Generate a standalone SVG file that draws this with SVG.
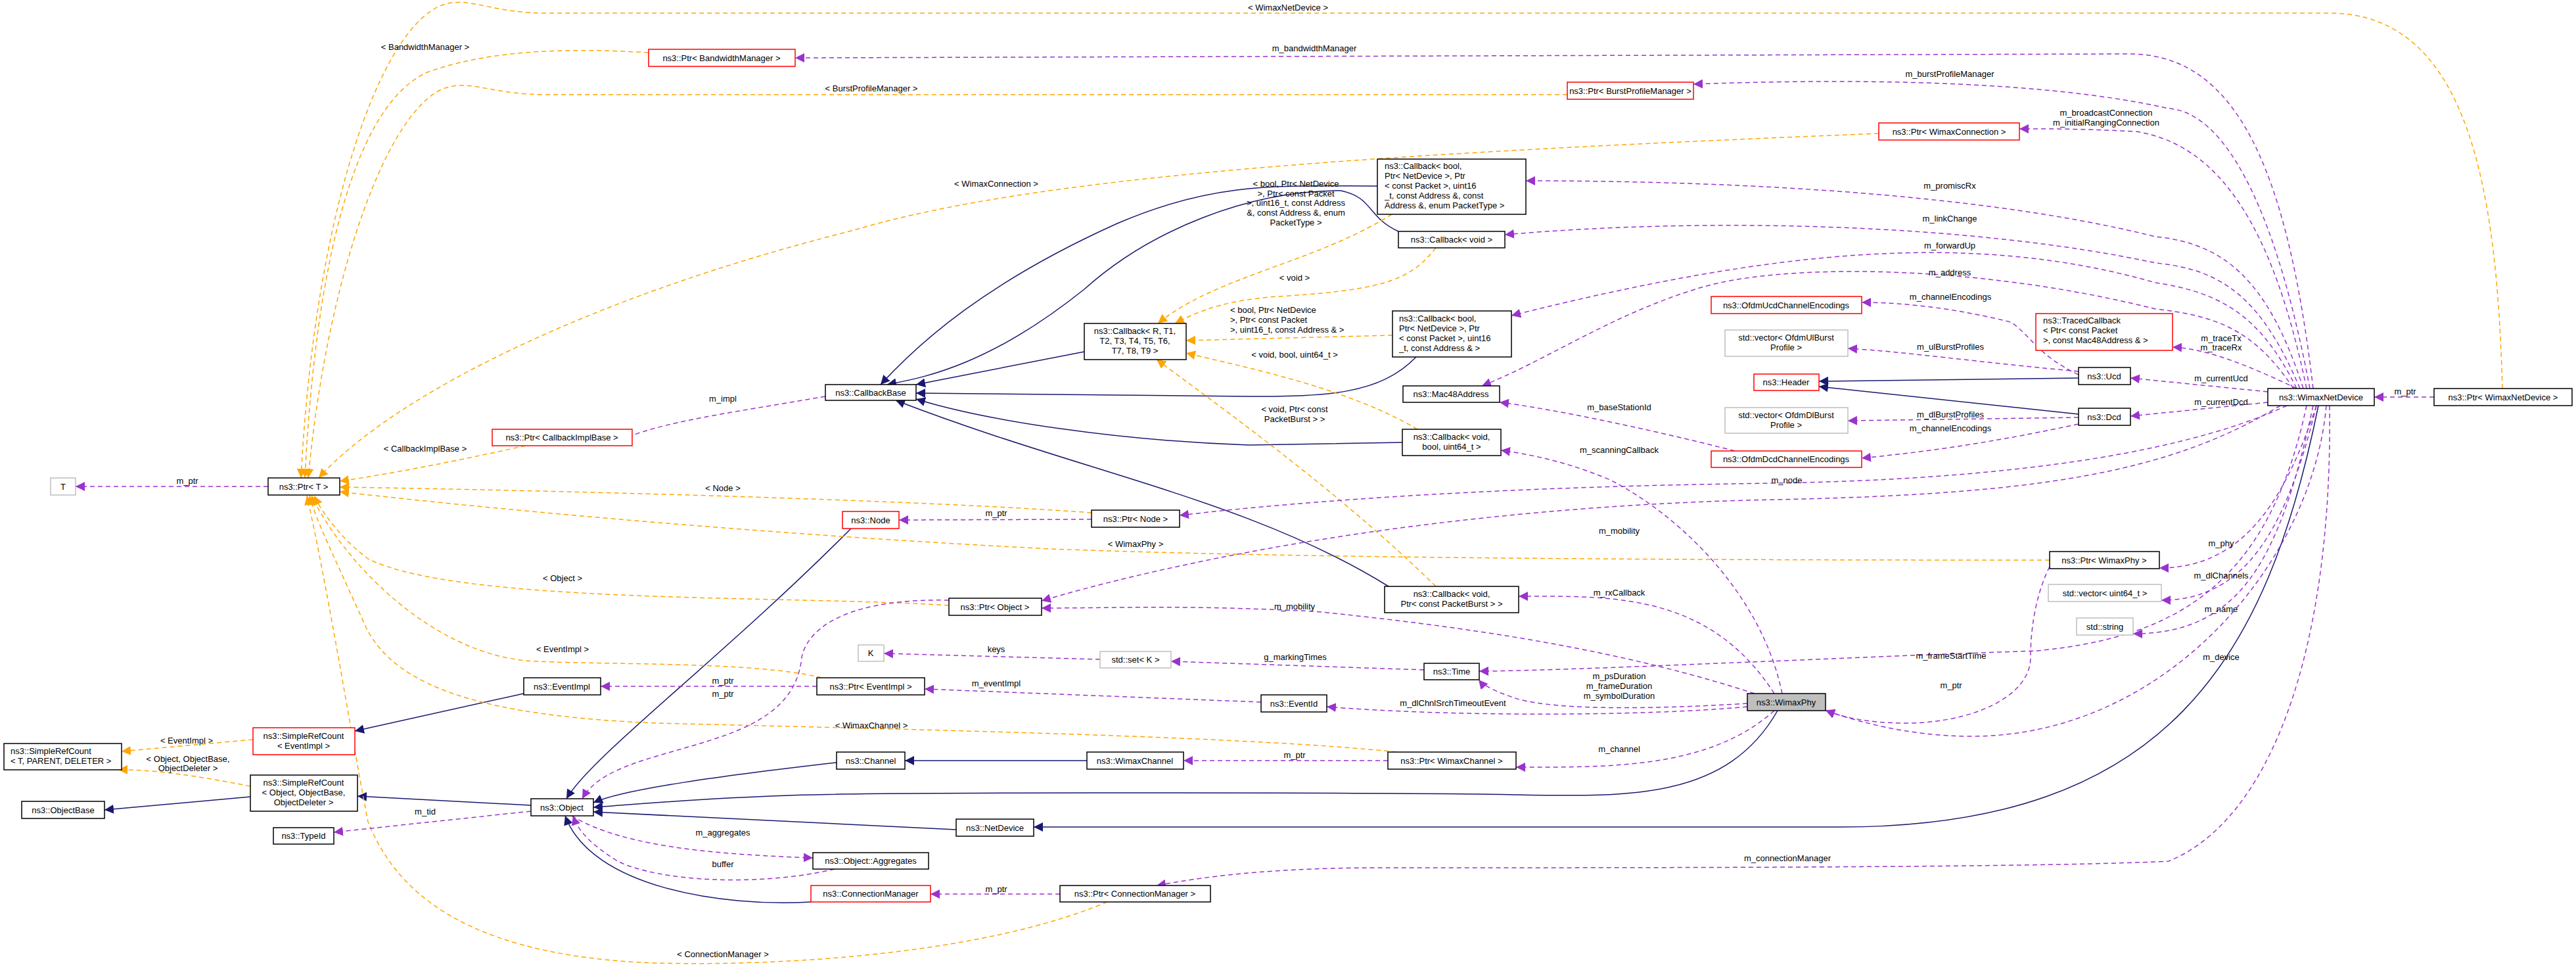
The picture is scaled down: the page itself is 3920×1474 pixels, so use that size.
<svg xmlns="http://www.w3.org/2000/svg" width="3920" height="1474" viewBox="0 0 3920 1474">
<style>
text{font-family:"Liberation Sans",Arial,sans-serif;font-size:13px;fill:#000}
.n rect{fill:#fff;stroke:#000;stroke-width:1.5}
.n.r rect{stroke:#f00}
.n.g rect{stroke:#bfbfbf}
.n.s rect{fill:#bfbfbf}
.n text{text-anchor:middle}
.n text.l{text-anchor:start}
.e path{fill:none;stroke-width:1.5}
.i{stroke:#191970}
.u{stroke:#9a32cd;stroke-dasharray:7,5}
.t{stroke:#ffa500;stroke-dasharray:7,5}
.lb text{text-anchor:middle}
</style>
<defs>
<marker id="ai" viewBox="0 0 10 10" refX="10" refY="5" markerWidth="14" markerHeight="14" markerUnits="userSpaceOnUse" orient="auto"><path d="M0,0L10,5L0,10z" fill="#191970"/></marker>
<marker id="au" viewBox="0 0 10 10" refX="10" refY="5" markerWidth="14" markerHeight="14" markerUnits="userSpaceOnUse" orient="auto"><path d="M0,0L10,5L0,10z" fill="#9a32cd"/></marker>
<marker id="at" viewBox="0 0 10 10" refX="10" refY="5" markerWidth="14" markerHeight="14" markerUnits="userSpaceOnUse" orient="auto"><path d="M0,0L10,5L0,10z" fill="#ffa500"/></marker>
</defs>
<rect width="3920" height="1474" fill="#fff"/>
<g id="edges" class="e">
<!-- inheritance -->
<path class="i" marker-end="url(#ai)" d="M2096,283 C1950,283 1850,275 1700,340 C1500,430 1400,520 1340,585"/>
<path class="i" marker-end="url(#ai)" d="M2128,352 C2080,330 2090,300 2040,290 C1900,290 1750,350 1650,440 C1500,560 1400,575 1350,585"/>
<path class="i" marker-end="url(#ai)" d="M1650,535 L1394,585"/>
<path class="i" marker-end="url(#ai)" d="M2155,543 C2100,600 2020,603 1900,603 L1394,598"/>
<path class="i" marker-end="url(#ai)" d="M2134,673 L1900,677 C1700,670 1500,640 1394,607"/>
<path class="i" marker-end="url(#ai)" d="M2113,892 C1900,760 1650,720 1363,609"/>
<path class="i" marker-end="url(#ai)" d="M1295,804 C1100,1000 900,1150 862,1215"/>
<path class="i" marker-end="url(#ai)" d="M797,1055 L540,1112"/>
<path class="i" marker-end="url(#ai)" d="M381,1212 L159,1232"/>
<path class="i" marker-end="url(#ai)" d="M808,1225 L544,1211"/>
<path class="i" marker-end="url(#ai)" d="M1273,1160 C1100,1180 950,1200 903,1221"/>
<path class="i" marker-end="url(#ai)" d="M1654,1157 L1377,1157"/>
<path class="i" marker-end="url(#ai)" d="M2705,1081 C2620,1230 2450,1210 2250,1208 C2000,1205 1300,1205 1200,1210 C1050,1215 950,1225 903,1228"/>
<path class="i" marker-end="url(#ai)" d="M1455,1262 L903,1235"/>
<path class="i" marker-end="url(#ai)" d="M3528,617 C3450,1000 3300,1258 2800,1258 L1573,1258"/>
<path class="i" marker-end="url(#ai)" d="M1234,1372 C1100,1380 900,1350 860,1241"/>
<path class="i" marker-end="url(#ai)" d="M3163,575 L2768,580"/>
<path class="i" marker-end="url(#ai)" d="M3163,630 L2768,588"/>
<!-- templates -->
<path class="t" marker-end="url(#at)" d="M3808,591 C3800,300 3760,20 3545,20 L830,20 C760,20 720,0 690,4 C590,10 480,300 458,727"/>
<path class="t" marker-end="url(#at)" d="M987,80 C900,75 760,70 650,110 C540,160 480,400 464,727"/>
<path class="t" marker-end="url(#at)" d="M2385,144 L830,144 C760,144 720,125 690,131 C600,140 500,400 469,727"/>
<path class="t" marker-end="url(#at)" d="M2859,203 C2200,230 1600,260 1300,350 C900,450 600,600 485,727"/>
<path class="t" marker-end="url(#at)" d="M800,678 C700,700 600,720 517,732"/>
<path class="t" marker-end="url(#at)" d="M1661,780 C1400,760 800,745 517,741"/>
<path class="t" marker-end="url(#at)" d="M3119,852 C2600,852 2000,850 1600,835 C1200,815 800,780 517,748"/>
<path class="t" marker-end="url(#at)" d="M1444,921 C1200,905 700,920 560,850 C520,820 490,780 478,754"/>
<path class="t" marker-end="url(#at)" d="M1250,1031 C1150,1005 900,1012 800,1005 C650,990 520,850 474,754"/>
<path class="t" marker-end="url(#at)" d="M2125,1144 C1900,1120 1400,1110 1000,1100 C750,1090 600,1050 555,950 C510,850 480,790 471,754"/>
<path class="t" marker-end="url(#at)" d="M1685,1372 C1500,1450 1200,1470 1000,1465 C700,1455 600,1350 560,1250 C540,1150 500,900 467,754"/>
<path class="t" marker-end="url(#at)" d="M2118,326 C2000,400 1850,420 1762,492"/>
<path class="t" marker-end="url(#at)" d="M2185,377 C2150,420 2120,440 1960,450 C1870,455 1830,470 1788,492"/>
<path class="t" marker-end="url(#at)" d="M2119,510 L1805,518"/>
<path class="t" marker-end="url(#at)" d="M2157,653 C2050,590 1900,560 1805,537"/>
<path class="t" marker-end="url(#at)" d="M2185,892 C2050,760 1900,650 1760,547"/>
<path class="t" marker-end="url(#at)" d="M385,1125 L185,1143"/>
<path class="t" marker-end="url(#at)" d="M381,1196 C300,1180 230,1170 180,1171"/>
<!-- usage -->
<path class="u" marker-end="url(#au)" d="M408,740 L115,740"/>
<path class="u" marker-end="url(#au)" d="M1256,603 C1100,630 980,645 930,678"/>
<path class="u" marker-end="url(#au)" d="M1661,790 L1368,791"/>
<path class="u" marker-end="url(#au)" d="M1444,913 C1300,910 1230,950 1220,1000 C1210,1100 1100,1120 1000,1150 C930,1170 900,1190 886,1215"/>
<path class="u" marker-end="url(#au)" d="M1243,1044 L914,1044"/>
<path class="u" marker-end="url(#au)" d="M1674,1003 L1345,994"/>
<path class="u" marker-end="url(#au)" d="M2167,1019 L1782,1006"/>
<path class="u" marker-end="url(#au)" d="M1919,1068 L1407,1048"/>
<path class="u" marker-end="url(#au)" d="M2112,1157 L1801,1157"/>
<path class="u" marker-end="url(#au)" d="M1613,1360 L1416,1360"/>
<path class="u" marker-end="url(#au)" d="M808,1234 L508,1266"/>
<path class="u" marker-end="url(#au)" d="M870,1241 C950,1290 1100,1300 1237,1305"/>
<path class="u" marker-end="url(#au)" d="M1270,1322 C1150,1350 1000,1340 940,1310 C900,1285 880,1265 872,1241"/>
<path class="u" marker-end="url(#au)" d="M3704,604 L3613,604"/>
<path class="u" marker-end="url(#au)" d="M3119,862 C3100,900 3090,950 3090,1000 C3090,1060 3000,1100 2900,1100 C2840,1100 2800,1090 2778,1080"/>
<path class="u" marker-end="url(#au)" d="M3163,570 C3100,540 3090,510 3060,490 C2980,470 2900,460 2833,460"/>
<path class="u" marker-end="url(#au)" d="M3163,565 C3000,550 2900,535 2812,530"/>
<path class="u" marker-end="url(#au)" d="M3163,635 L2812,640"/>
<path class="u" marker-end="url(#au)" d="M3163,645 C3000,680 2900,690 2833,697"/>
<path class="u" marker-end="url(#au)" d="M2640,686 C2500,650 2350,620 2282,612"/>
<path class="u" marker-end="url(#au)" d="M3520,591 C3480,250 3400,82 3240,82 L1210,88"/>
<path class="u" marker-end="url(#au)" d="M3515,591 C3460,300 3380,170 3300,165 C3100,120 2800,120 2577,128"/>
<path class="u" marker-end="url(#au)" d="M3510,591 C3460,350 3380,220 3250,200 C3150,195 3100,196 3073,196"/>
<path class="u" marker-end="url(#au)" d="M3505,591 C3450,420 3380,370 3280,360 C3000,290 2600,275 2322,275"/>
<path class="u" marker-end="url(#au)" d="M3500,591 C3440,450 3380,410 3280,400 C3000,340 2600,330 2290,357"/>
<path class="u" marker-end="url(#au)" d="M3495,591 C3440,480 3380,445 3280,430 C3000,350 2700,380 2300,480"/>
<path class="u" marker-end="url(#au)" d="M3490,591 C3430,500 3370,480 3280,470 C3000,400 2700,400 2580,440 C2450,480 2350,550 2255,587"/>
<path class="u" marker-end="url(#au)" d="M3495,591 C3430,560 3360,530 3306,528"/>
<path class="u" marker-end="url(#au)" d="M3451,596 L3242,575"/>
<path class="u" marker-end="url(#au)" d="M3451,612 L3242,633"/>
<path class="u" marker-end="url(#au)" d="M3480,617 C3300,700 3000,730 2700,735 C2300,740 2000,760 1795,784"/>
<path class="u" marker-end="url(#au)" d="M3470,617 C3300,720 3100,752 2700,760 C2200,770 1800,850 1585,914"/>
<path class="u" marker-end="url(#au)" d="M2670,1055 C2500,1000 2300,960 2000,930 C1800,920 1700,925 1585,925"/>
<path class="u" marker-end="url(#au)" d="M3525,617 C3480,750 3420,864 3286,864"/>
<path class="u" marker-end="url(#au)" d="M3525,617 C3480,800 3420,913 3289,913"/>
<path class="u" marker-end="url(#au)" d="M3520,617 C3470,850 3410,964 3246,964"/>
<path class="u" marker-end="url(#au)" d="M3510,617 C3450,900 3300,970 3100,990 C2800,1000 2400,1020 2251,1021"/>
<path class="u" marker-end="url(#au)" d="M3540,617 C3520,850 3300,1120 3000,1120 C2900,1120 2820,1095 2778,1081"/>
<path class="u" marker-end="url(#au)" d="M3545,617 C3550,1000 3450,1250 3300,1310 C3100,1320 2500,1320 2100,1320 C1900,1320 1800,1340 1760,1347"/>
<path class="u" marker-end="url(#au)" d="M2712,1055 C2680,900 2550,780 2450,730 C2380,700 2320,690 2284,685"/>
<path class="u" marker-end="url(#au)" d="M2700,1055 C2600,900 2450,907 2311,907"/>
<path class="u" marker-end="url(#au)" d="M2659,1070 C2500,1080 2350,1080 2300,1060 C2270,1050 2255,1040 2250,1034"/>
<path class="u" marker-end="url(#au)" d="M2659,1075 C2500,1090 2200,1090 2019,1075"/>
<path class="u" marker-end="url(#au)" d="M2700,1081 C2600,1170 2450,1167 2307,1167"/>
</g>
<g id="labels" class="lb">
<text x="1960" y="16">&lt; WimaxNetDevice &gt;</text>
<text x="647" y="76">&lt; BandwidthManager &gt;</text>
<text x="1326" y="139">&lt; BurstProfileManager &gt;</text>
<text x="1516" y="284">&lt; WimaxConnection &gt;</text>
<text x="2000" y="78">m_bandwidthManager</text>
<text x="2967" y="117">m_burstProfileManager</text>
<text x="3205" y="176">m_broadcastConnection</text>
<text x="3205" y="191">m_initialRangingConnection</text>
<text x="1972" y="284">&lt; bool, Ptr&lt; NetDevice</text>
<text x="1972" y="299">&gt;, Ptr&lt; const Packet</text>
<text x="1972" y="313">&gt;, uint16_t, const Address</text>
<text x="1972" y="328">&amp;, const Address &amp;, enum</text>
<text x="1972" y="343">PacketType &gt;</text>
<text x="1970" y="427">&lt; void &gt;</text>
<text x="1872" y="476" style="text-anchor:start">&lt; bool, Ptr&lt; NetDevice</text>
<text x="1872" y="491" style="text-anchor:start">&gt;, Ptr&lt; const Packet</text>
<text x="1872" y="506" style="text-anchor:start">&gt;, uint16_t, const Address &amp; &gt;</text>
<text x="1970" y="544">&lt; void, bool, uint64_t &gt;</text>
<text x="1970" y="627">&lt; void, Ptr&lt; const</text>
<text x="1970" y="642">PacketBurst &gt; &gt;</text>
<text x="1100" y="611">m_impl</text>
<text x="647" y="687">&lt; CallbackImplBase &gt;</text>
<text x="285" y="736">m_ptr</text>
<text x="1100" y="747">&lt; Node &gt;</text>
<text x="1516" y="785">m_ptr</text>
<text x="1728" y="832">&lt; WimaxPhy &gt;</text>
<text x="856" y="884">&lt; Object &gt;</text>
<text x="856" y="992">&lt; EventImpl &gt;</text>
<text x="2967" y="287">m_promiscRx</text>
<text x="2967" y="337">m_linkChange</text>
<text x="2967" y="378">m_forwardUp</text>
<text x="2967" y="419">m_address</text>
<text x="2968" y="456">m_channelEncodings</text>
<text x="2968" y="532">m_ulBurstProfiles</text>
<text x="2968" y="635">m_dlBurstProfiles</text>
<text x="2968" y="656">m_channelEncodings</text>
<text x="2464" y="624">m_baseStationId</text>
<text x="2464" y="689">m_scanningCallback</text>
<text x="2719" y="735">m_node</text>
<text x="3380" y="519">m_traceTx</text>
<text x="3380" y="533">m_traceRx</text>
<text x="3380" y="580">m_currentUcd</text>
<text x="3380" y="616">m_currentDcd</text>
<text x="3660" y="600">m_ptr</text>
<text x="3380" y="831">m_phy</text>
<text x="3380" y="880">m_dlChannels</text>
<text x="3380" y="931">m_name</text>
<text x="3380" y="1004">m_device</text>
<text x="2464" y="812">m_mobility</text>
<text x="1970" y="927">m_mobility</text>
<text x="2464" y="906">m_rxCallback</text>
<text x="1516" y="992">keys</text>
<text x="1971" y="1004">g_markingTimes</text>
<text x="2969" y="1002">m_frameStartTime</text>
<text x="2464" y="1033">m_psDuration</text>
<text x="2464" y="1048">m_frameDuration</text>
<text x="2464" y="1063">m_symbolDuration</text>
<text x="2969" y="1047">m_ptr</text>
<text x="1100" y="1040">m_ptr</text>
<text x="1100" y="1060">m_ptr</text>
<text x="1516" y="1044">m_eventImpl</text>
<text x="2211" y="1074">m_dlChnlSrchTimeoutEvent</text>
<text x="1326" y="1108">&lt; WimaxChannel &gt;</text>
<text x="1970" y="1153">m_ptr</text>
<text x="2464" y="1144">m_channel</text>
<text x="284" y="1131">&lt; EventImpl &gt;</text>
<text x="286" y="1159">&lt; Object, ObjectBase,</text>
<text x="286" y="1173">ObjectDeleter &gt;</text>
<text x="647" y="1239">m_tid</text>
<text x="1100" y="1271">m_aggregates</text>
<text x="1100" y="1319">buffer</text>
<text x="1516" y="1357">m_ptr</text>
<text x="2720" y="1310">m_connectionManager</text>
<text x="1100" y="1456">&lt; ConnectionManager &gt;</text>
</g>
<g id="n_T" class="n g"><rect x="77" y="727" width="38" height="26"/><text x="96" y="745">T</text></g>
<g id="n_PtrT" class="n"><rect x="408" y="727" width="109" height="26"/><text x="462" y="745">ns3::Ptr&lt; T &gt;</text></g>
<g id="n_PtrBW" class="n r"><rect x="987" y="75" width="223" height="26"/><text x="1098" y="93">ns3::Ptr&lt; BandwidthManager &gt;</text></g>
<g id="n_PtrBP" class="n r"><rect x="2385" y="125" width="192" height="26"/><text x="2481" y="143">ns3::Ptr&lt; BurstProfileManager &gt;</text></g>
<g id="n_PtrWC" class="n r"><rect x="2859" y="187" width="214" height="26"/><text x="2966" y="205">ns3::Ptr&lt; WimaxConnection &gt;</text></g>
<g id="n_PtrCIB" class="n r"><rect x="749" y="653" width="213" height="25"/><text x="855" y="670">ns3::Ptr&lt; CallbackImplBase &gt;</text></g>
<g id="n_CB" class="n"><rect x="1256" y="585" width="138" height="24"/><text x="1325" y="602">ns3::CallbackBase</text></g>
<g id="n_CbR" class="n"><rect x="1650" y="492" width="155" height="55"/><text x="1727" y="508">ns3::Callback&lt; R, T1,</text><text x="1727" y="523">T2, T3, T4, T5, T6,</text><text x="1727" y="538">T7, T8, T9 &gt;</text></g>
<g id="n_CbPT" class="n"><rect x="2096" y="242" width="226" height="84"/><text class="l" x="2107" y="257">ns3::Callback&lt; bool,</text><text class="l" x="2107" y="272">Ptr&lt; NetDevice &gt;, Ptr</text><text class="l" x="2107" y="287">&lt; const Packet &gt;, uint16</text><text class="l" x="2107" y="302">_t, const Address &amp;, const</text><text class="l" x="2107" y="317">Address &amp;, enum PacketType &gt;</text></g>
<g id="n_CbV" class="n"><rect x="2128" y="352" width="162" height="25"/><text x="2209" y="369">ns3::Callback&lt; void &gt;</text></g>
<g id="n_CbA" class="n"><rect x="2119" y="473" width="181" height="70"/><text class="l" x="2129" y="489">ns3::Callback&lt; bool,</text><text class="l" x="2129" y="504">Ptr&lt; NetDevice &gt;, Ptr</text><text class="l" x="2129" y="519">&lt; const Packet &gt;, uint16</text><text class="l" x="2129" y="534">_t, const Address &amp; &gt;</text></g>
<g id="n_Mac" class="n"><rect x="2135" y="587" width="147" height="25"/><text x="2208" y="604">ns3::Mac48Address</text></g>
<g id="n_CbVB" class="n"><rect x="2134" y="653" width="150" height="40"/><text x="2209" y="669">ns3::Callback&lt; void,</text><text x="2209" y="684">bool, uint64_t &gt;</text></g>
<g id="n_Ucde" class="n r"><rect x="2604" y="451" width="229" height="26"/><text x="2718" y="469">ns3::OfdmUcdChannelEncodings</text></g>
<g id="n_VUl" class="n g"><rect x="2625" y="502" width="187" height="40"/><text x="2718" y="518">std::vector&lt; OfdmUlBurst</text><text x="2718" y="533">Profile &gt;</text></g>
<g id="n_Hdr" class="n r"><rect x="2669" y="569" width="99" height="25"/><text x="2718" y="586">ns3::Header</text></g>
<g id="n_VDl" class="n g"><rect x="2625" y="620" width="187" height="39"/><text x="2718" y="636">std::vector&lt; OfdmDlBurst</text><text x="2718" y="651">Profile &gt;</text></g>
<g id="n_Dcde" class="n r"><rect x="2604" y="686" width="229" height="25"/><text x="2718" y="703">ns3::OfdmDcdChannelEncodings</text></g>
<g id="n_TC" class="n r"><rect x="3098" y="477" width="208" height="56"/><text class="l" x="3109" y="492">ns3::TracedCallback</text><text class="l" x="3109" y="507">&lt; Ptr&lt; const Packet</text><text class="l" x="3109" y="522">&gt;, const Mac48Address &amp; &gt;</text></g>
<g id="n_Ucd" class="n"><rect x="3163" y="559" width="79" height="26"/><text x="3202" y="577">ns3::Ucd</text></g>
<g id="n_Dcd" class="n"><rect x="3163" y="621" width="79" height="26"/><text x="3202" y="639">ns3::Dcd</text></g>
<g id="n_WND" class="n"><rect x="3451" y="591" width="162" height="26"/><text x="3532" y="609">ns3::WimaxNetDevice</text></g>
<g id="n_PtrWND" class="n"><rect x="3704" y="591" width="210" height="26"/><text x="3809" y="609">ns3::Ptr&lt; WimaxNetDevice &gt;</text></g>
<g id="n_PtrWP" class="n"><rect x="3119" y="839" width="167" height="26"/><text x="3202" y="857">ns3::Ptr&lt; WimaxPhy &gt;</text></g>
<g id="n_VU64" class="n g"><rect x="3117" y="889" width="172" height="26"/><text x="3203" y="907">std::vector&lt; uint64_t &gt;</text></g>
<g id="n_Str" class="n g"><rect x="3160" y="940" width="86" height="26"/><text x="3203" y="958">std::string</text></g>
<g id="n_Node" class="n r"><rect x="1282" y="778" width="86" height="26"/><text x="1325" y="796">ns3::Node</text></g>
<g id="n_PtrNode" class="n"><rect x="1661" y="776" width="134" height="26"/><text x="1728" y="794">ns3::Ptr&lt; Node &gt;</text></g>
<g id="n_PtrObj" class="n"><rect x="1444" y="910" width="141" height="26"/><text x="1514" y="928">ns3::Ptr&lt; Object &gt;</text></g>
<g id="n_CbPB" class="n"><rect x="2107" y="892" width="204" height="40"/><text x="2209" y="908">ns3::Callback&lt; void,</text><text x="2209" y="923">Ptr&lt; const PacketBurst &gt; &gt;</text></g>
<g id="n_K" class="n g"><rect x="1306" y="981" width="39" height="25"/><text x="1325" y="998">K</text></g>
<g id="n_SetK" class="n g"><rect x="1674" y="991" width="108" height="25"/><text x="1728" y="1008">std::set&lt; K &gt;</text></g>
<g id="n_Time" class="n"><rect x="2167" y="1009" width="84" height="25"/><text x="2209" y="1026">ns3::Time</text></g>
<g id="n_EvImpl" class="n"><rect x="797" y="1031" width="117" height="26"/><text x="855" y="1049">ns3::EventImpl</text></g>
<g id="n_PtrEv" class="n"><rect x="1243" y="1031" width="164" height="26"/><text x="1325" y="1049">ns3::Ptr&lt; EventImpl &gt;</text></g>
<g id="n_EvId" class="n"><rect x="1919" y="1057" width="100" height="26"/><text x="1969" y="1075">ns3::EventId</text></g>
<g id="n_WPhy" class="n s"><rect x="2659" y="1055" width="119" height="26"/><text x="2718" y="1073">ns3::WimaxPhy</text></g>
<g id="n_Chan" class="n"><rect x="1273" y="1144" width="104" height="26"/><text x="1325" y="1162">ns3::Channel</text></g>
<g id="n_WChan" class="n"><rect x="1654" y="1144" width="147" height="26"/><text x="1727" y="1162">ns3::WimaxChannel</text></g>
<g id="n_PtrWChan" class="n"><rect x="2112" y="1144" width="195" height="26"/><text x="2209" y="1162">ns3::Ptr&lt; WimaxChannel &gt;</text></g>
<g id="n_NetDev" class="n"><rect x="1455" y="1246" width="118" height="26"/><text x="1514" y="1264">ns3::NetDevice</text></g>
<g id="n_Agg" class="n"><rect x="1237" y="1297" width="176" height="25"/><text x="1325" y="1314">ns3::Object::Aggregates</text></g>
<g id="n_CM" class="n r"><rect x="1234" y="1347" width="182" height="25"/><text x="1325" y="1364">ns3::ConnectionManager</text></g>
<g id="n_PtrCM" class="n"><rect x="1613" y="1347" width="229" height="25"/><text x="1727" y="1364">ns3::Ptr&lt; ConnectionManager &gt;</text></g>
<g id="n_SRCE" class="n r"><rect x="385" y="1107" width="155" height="41"/><text x="462" y="1124">ns3::SimpleRefCount</text><text x="462" y="1139">&lt; EventImpl &gt;</text></g>
<g id="n_SRCT" class="n"><rect x="6" y="1131" width="179" height="40"/><text class="l" x="16" y="1147">ns3::SimpleRefCount</text><text class="l" x="16" y="1162">&lt; T, PARENT, DELETER &gt;</text></g>
<g id="n_SRCO" class="n"><rect x="381" y="1179" width="163" height="55"/><text x="462" y="1195">ns3::SimpleRefCount</text><text x="462" y="1210">&lt; Object, ObjectBase,</text><text x="462" y="1225">ObjectDeleter &gt;</text></g>
<g id="n_OB" class="n"><rect x="33" y="1219" width="126" height="26"/><text x="96" y="1237">ns3::ObjectBase</text></g>
<g id="n_Tid" class="n"><rect x="416" y="1259" width="92" height="25"/><text x="462" y="1276">ns3::TypeId</text></g>
<g id="n_Obj" class="n"><rect x="808" y="1215" width="95" height="26"/><text x="855" y="1233">ns3::Object</text></g>
</svg>
